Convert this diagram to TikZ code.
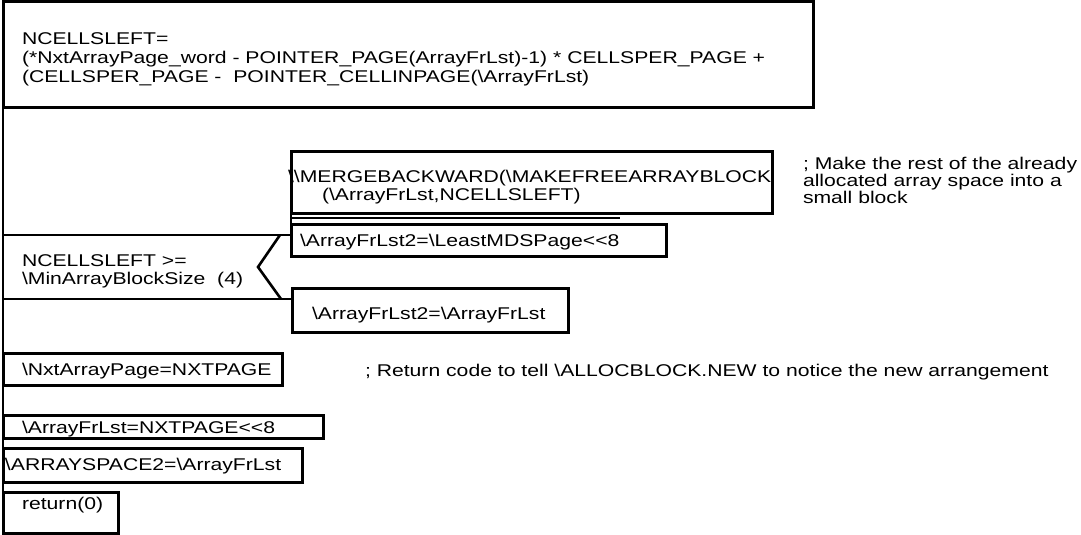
\documentclass[tikz,border=0pt]{standalone}
\usepackage{fontspec}
\setmainfont{Liberation Sans}[FakeStretch=1.245,Ligatures=TeXOff]
\begin{document}
\begin{tikzpicture}[x=1pt,y=-1pt,line join=miter]
\tikzset{
  box/.style={draw=black,line width=3pt},
  rule/.style={draw=black,line width=2.6pt},
  thinrule/.style={draw=black,line width=1.6pt},
  txt/.style={anchor=base west,inner sep=0pt,outer sep=0pt,font=\fontsize{17}{18.5}\selectfont}
}
\fill[white] (0,0) rectangle (1081,535);
\useasboundingbox (0,0) rectangle (1081,535);
% main left rule
\draw[rule] (3,0) -- (3,535);
% top box
\draw[box] (3,1.5) rectangle (813,107);
\node[txt] (t1) at (22,45) {NCELLSLEFT=};
\node[txt] (t2) at (22,63.5) {(*NxtArrayPage\_word - POINTER\_PAGE(ArrayFrLst)-1) * CELLSPER\_PAGE +};
\node[txt] (t3) at (22,82) {(CELLSPER\_PAGE -~ POINTER\_CELLINPAGE(\textbackslash ArrayFrLst)};
% decision
\draw[rule] (3,235) -- (291,235);
\draw[rule] (3,299) -- (292,299);
\draw[rule] (280,235) -- (258,267) -- (281,299);
\node[txt] (d1) at (22,266) {NCELLSLEFT >=};
\node[txt] (d2) at (22,284) {\textbackslash MinArrayBlockSize~ (4)};
% then branch
\draw[rule] (291,151) -- (291,256);
\draw[box] (291,151) rectangle (772,213);
\node[txt] (m1) at (288,182) {\textbackslash\textbackslash MERGEBACKWARD(\textbackslash MAKEFREEARRAYBLOCK};
\node[txt] (m2) at (322,200) {(\textbackslash ArrayFrLst,NCELLSLEFT)};
\draw[thinrule] (291,218) -- (620,218);
\draw[box] (291,224) rectangle (666,256);
\node[txt] (l1) at (300,246) {\textbackslash ArrayFrLst2=\textbackslash LeastMDSPage<<8};
\node[txt] (c1) at (803,169) {; Make the rest of the already};
\node[txt] (c2) at (803,186) {allocated array space into a};
\node[txt] (c3) at (803,203) {small block};
% else branch
\draw[box] (292,288) rectangle (568,332);
\node[txt] (e1) at (312,319) {\textbackslash ArrayFrLst2=\textbackslash ArrayFrLst};
% sequence
\draw[box] (3,353) rectangle (282,385);
\node[txt] (s1) at (22,375) {\textbackslash NxtArrayPage=NXTPAGE};
\node[txt] (r1) at (365,376) {; Return code to tell \textbackslash ALLOCBLOCK.NEW to notice the new arrangement};
\draw[box] (3,415) rectangle (323,438);
\node[txt] (s2) at (22,433) {\textbackslash ArrayFrLst=NXTPAGE<<8};
\draw[box] (3,448) rectangle (302,482);
\node[txt] (s3) at (5,470) {\textbackslash ARRAYSPACE2=\textbackslash ArrayFrLst};
\draw[box] (3,492) rectangle (118,533);
\node[txt] (s4) at (22,509) {return(0)};
\end{tikzpicture}
\end{document}
